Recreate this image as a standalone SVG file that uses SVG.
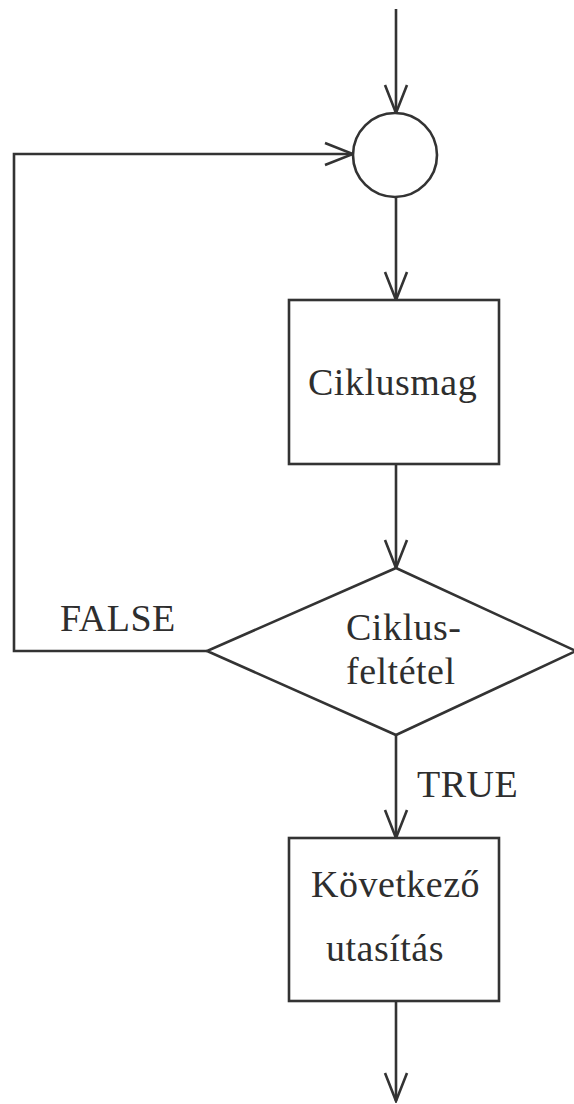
<svg xmlns="http://www.w3.org/2000/svg" width="574" height="1104" viewBox="0 0 574 1104">
  <style>
    .shape { fill: #ffffff; stroke: #333333; stroke-width: 2.6; }
    .edge { fill: none; stroke: #333333; stroke-width: 2.6; }
    .label { font-family: "Liberation Serif", "Times New Roman", serif; font-size: 38px; fill: #2e2e2e; letter-spacing: 0.5px; }
  </style>
  <defs>
    <marker id="open-arrow" viewBox="0 0 32 26" markerWidth="32" markerHeight="26" refX="30" refY="13" orient="auto" markerUnits="userSpaceOnUse">
      <path d="M2 2 L30 13 L2 24" fill="none" stroke="#333333" stroke-width="2.6" stroke-linejoin="miter"/>
    </marker>
  </defs>
  <rect width="574" height="1104" fill="#ffffff"/>

  <!-- connectors -->
  <g id="connectors">
    <line class="edge" x1="396" y1="9" x2="396" y2="113" marker-end="url(#open-arrow)"/>
    <polyline class="edge" points="207,651 14,651 14,154 353,154" marker-end="url(#open-arrow)"/>
    <line class="edge" x1="396" y1="197" x2="396" y2="300" marker-end="url(#open-arrow)"/>
    <line class="edge" x1="396" y1="464" x2="396" y2="568" marker-end="url(#open-arrow)"/>
    <line class="edge" x1="396" y1="735" x2="396" y2="838" marker-end="url(#open-arrow)"/>
    <line class="edge" x1="396" y1="1001" x2="396" y2="1101" marker-end="url(#open-arrow)"/>
    <text class="label" x="60" y="631">FALSE</text>
    <text class="label" x="417" y="797">TRUE</text>
  </g>

  <!-- junction circle -->
  <g id="junction">
    <circle class="shape" cx="395" cy="155" r="42"/>
  </g>

  <!-- loop body -->
  <g id="loop-body">
    <rect class="shape" x="289" y="300" width="210" height="164"/>
    <text class="label" x="308" y="395">Ciklusmag</text>
  </g>

  <!-- loop condition -->
  <g id="loop-condition">
    <polygon class="shape" points="396,568 576,651 396,735 207,651"/>
    <text class="label" x="346" y="640">Ciklus-</text>
    <text class="label" x="346" y="684">feltétel</text>
  </g>

  <!-- next statement -->
  <g id="next-statement">
    <rect class="shape" x="289" y="838" width="210" height="163"/>
    <text class="label" x="311" y="897">Következő</text>
    <text class="label" x="326" y="961">utasítás</text>
  </g>
</svg>
